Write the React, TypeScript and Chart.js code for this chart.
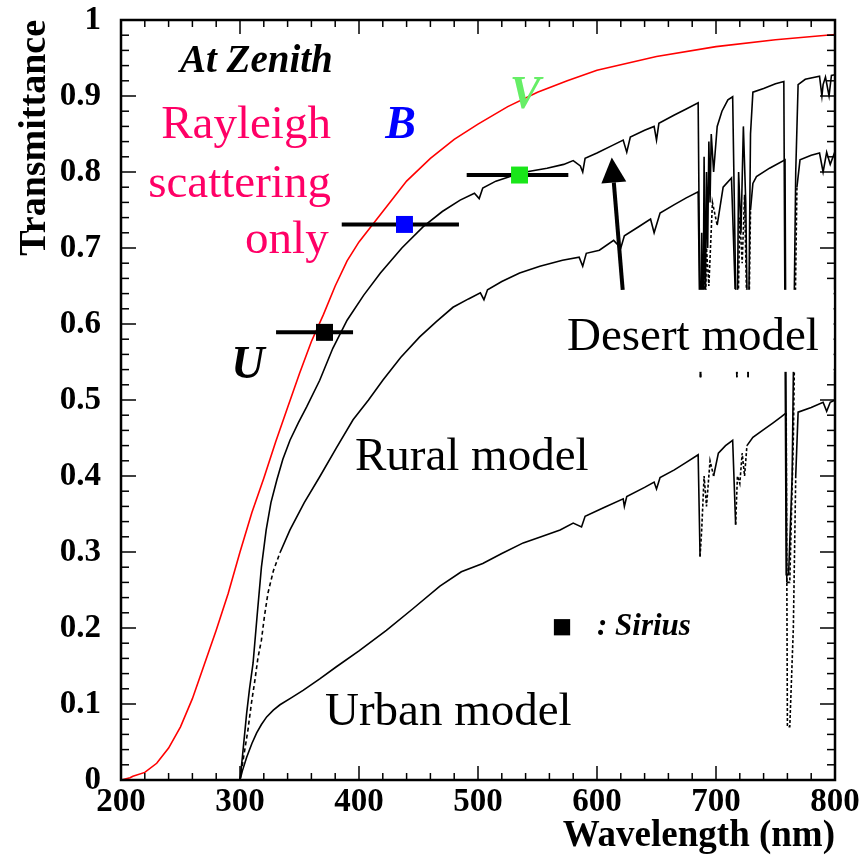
import React, { useEffect, useRef } from "react";
import { Chart, registerables } from "chart.js";
Chart.register(...registerables);

// ---------- data ----------
const rayleighWl = [200, 207.6, 210, 220, 230, 240, 250, 260, 270, 280, 290, 300, 310, 320, 330, 340, 350, 360, 370, 380, 390, 400, 420, 440, 460, 480, 500, 525, 550, 575, 600, 650, 700, 750, 800];
const rayleighT = [0.0, 0.003, 0.005, 0.010, 0.022, 0.042, 0.070, 0.107, 0.152, 0.197, 0.245, 0.300, 0.352, 0.397, 0.445, 0.490, 0.535, 0.577, 0.612, 0.650, 0.683, 0.708, 0.748, 0.788, 0.818, 0.843, 0.863, 0.886, 0.905, 0.920, 0.934, 0.952, 0.965, 0.974, 0.981];

const desertWl = [300, 302, 305.6, 308, 311, 314.6, 318, 322, 326, 331, 336, 342, 349, 356, 367, 378, 390, 404, 418, 436, 454, 470, 485, 497, 501, 504, 515, 527, 540, 558, 572, 580, 586, 588, 590, 600, 613, 622, 625, 628, 640, 648, 650, 652, 665, 675, 685, 687, 688, 689, 690, 691, 692, 693, 694, 695, 696, 698, 701, 705, 710, 714, 716, 717.5, 719, 721, 723, 725, 727, 729, 731, 740, 750, 757, 759, 761, 764, 767, 769, 775, 787, 789, 790, 792, 795, 797, 800];
const desertT = [0.0, 0.03, 0.088, 0.12, 0.154, 0.22, 0.28, 0.329, 0.365, 0.395, 0.422, 0.447, 0.470, 0.491, 0.526, 0.568, 0.605, 0.638, 0.667, 0.700, 0.728, 0.748, 0.763, 0.772, 0.765, 0.779, 0.788, 0.794, 0.800, 0.805, 0.810, 0.815, 0.808, 0.800, 0.818, 0.825, 0.835, 0.842, 0.826, 0.846, 0.855, 0.860, 0.842, 0.864, 0.875, 0.883, 0.891, 0.53, 0.72, 0.55, 0.82, 0.62, 0.80, 0.70, 0.84, 0.76, 0.85, 0.80, 0.86, 0.88, 0.895, 0.899, 0.70, 0.53, 0.80, 0.72, 0.86, 0.76, 0.53, 0.85, 0.905, 0.910, 0.916, 0.919, 0.27, 0.27, 0.40, 0.80, 0.915, 0.922, 0.926, 0.90, 0.915, 0.925, 0.90, 0.927, 0.928];

const ruralWl = [300, 303, 306.7, 309.5, 312.6, 315, 318, 320.5, 323.5, 328, 333.6, 342, 354, 367, 381, 395, 408, 420, 435, 451, 465, 479, 492, 502, 505, 508, 520, 535, 552, 571, 585, 588, 591, 602, 614, 620, 623, 635, 645, 648, 653, 665, 675, 685, 687, 688, 689, 690, 691, 692, 694, 697, 701, 706, 713, 716, 717.5, 720, 722, 724, 727, 729, 731, 734, 745, 758, 759.5, 762, 765, 768, 770.6, 780, 787, 790, 793, 796, 800];
const ruralT = [0.0, 0.03, 0.066, 0.10, 0.132, 0.16, 0.184, 0.215, 0.246, 0.275, 0.299, 0.329, 0.365, 0.399, 0.437, 0.474, 0.500, 0.526, 0.556, 0.583, 0.603, 0.622, 0.633, 0.641, 0.632, 0.645, 0.656, 0.667, 0.676, 0.684, 0.688, 0.676, 0.693, 0.697, 0.710, 0.700, 0.716, 0.728, 0.738, 0.720, 0.746, 0.757, 0.766, 0.774, 0.53, 0.66, 0.55, 0.72, 0.60, 0.70, 0.65, 0.76, 0.73, 0.78, 0.792, 0.65, 0.53, 0.74, 0.68, 0.77, 0.53, 0.75, 0.785, 0.794, 0.805, 0.816, 0.26, 0.26, 0.45, 0.78, 0.816, 0.822, 0.825, 0.80, 0.826, 0.81, 0.827];

const urbanWl = [300, 302, 305.6, 310, 314, 318, 322.4, 328, 333.6, 343, 353, 367, 381, 400, 423, 445, 468, 486, 504, 520, 538, 553, 569, 580, 587, 590, 605, 622, 623, 625, 640, 648, 650, 653, 665, 675, 685, 686.6, 688, 690, 692, 695, 698, 702, 708, 714, 716.5, 718, 720, 722, 724, 726, 731, 740, 748, 755, 759, 760, 762, 765, 767, 769, 780, 790, 793, 796, 800];
const urbanT = [0.0, 0.012, 0.03, 0.048, 0.062, 0.073, 0.083, 0.092, 0.099, 0.108, 0.118, 0.133, 0.149, 0.170, 0.197, 0.225, 0.255, 0.274, 0.285, 0.298, 0.312, 0.320, 0.329, 0.338, 0.333, 0.347, 0.358, 0.370, 0.360, 0.373, 0.385, 0.392, 0.383, 0.398, 0.408, 0.418, 0.428, 0.294, 0.33, 0.40, 0.36, 0.42, 0.40, 0.43, 0.44, 0.447, 0.336, 0.40, 0.39, 0.43, 0.40, 0.44, 0.451, 0.461, 0.470, 0.478, 0.483, 0.07, 0.07, 0.20, 0.40, 0.484, 0.490, 0.497, 0.485, 0.497, 0.500];

// photometric filters measured on Sirius
const filterNames = ["U", "B", "V"];
const filterCenter = [371.0, 438.2, 534.9];
const filterT = [0.589, 0.731, 0.796];
const filterLo = [330.3, 385.5, 490.5];
const filterHi = [395.0, 484.0, 575.9];
const filterColors = ["#000000", "#0000ff", "#19e619"];
const filterLabelColors = ["#000000", "#0000ff", "#66ee66"];
const filterLabelPos = [[306.7, 0.529], [434.9, 0.845], [539.5, 0.884]];

// legend marker for Sirius
const siriusMarker = [570.6, 0.201];

// arrow pointing at desert curve: [tailX, tailY, tipX, tipY]
const desertArrow = [621.6, 0.645, 612.4, 0.819];

// ticks
const xTickLabels = ["200", "300", "400", "500", "600", "700", "800"];
const yTickLabels = ["0", "0.1", "0.2", "0.3", "0.4", "0.5", "0.6", "0.7", "0.8", "0.9", "1"];
const xMinorStep = 20;
const yMinorStep = 0.02;

const SERIF = "'Liberation Serif', 'Times New Roman', serif";

const toXY = (xs: number[], ys: number[]) => xs.map((x, i) => ({ x, y: ys[i] }));

const inBand = (v: number) => (v > 686 && v < 702) || (v > 715 && v < 730) || (v > 758.5 && v < 769);

const overlayPlugin = {
  id: "overlay",
  afterDatasetsDraw(chart: any) {
    const { ctx, chartArea: a, scales } = chart;
    const x = scales.x;
    const y = scales.y;
    ctx.save();
    // ticks
    ctx.strokeStyle = "#000";
    ctx.lineWidth = 1.5;
    const seg = (x0: number, y0: number, x1: number, y1: number) => {
      ctx.beginPath();
      ctx.moveTo(x0, y0);
      ctx.lineTo(x1, y1);
      ctx.stroke();
    };
    for (let k = 0; k <= 30; k++) {
      const v = x.min + k * xMinorStep;
      const px = x.getPixelForValue(v);
      const L = k % 5 === 0 ? 14 : 7;
      seg(px, a.bottom, px, a.bottom - L);
      seg(px, a.top, px, a.top + L);
    }
    for (let k = 0; k <= 50; k++) {
      const v = k * yMinorStep;
      const py = y.getPixelForValue(v);
      const L = k % 5 === 0 ? 15 : 8;
      seg(a.left, py, a.left + L, py);
      seg(a.right, py, a.right - L, py);
    }
    ctx.lineWidth = 2.5;
    ctx.strokeRect(a.left, a.top, a.right - a.left, a.bottom - a.top);

    const text = (s: string, vx: number, vy: number, font: string, color: string, align: CanvasTextAlign) => {
      ctx.font = font;
      ctx.fillStyle = color;
      ctx.textAlign = align;
      ctx.textBaseline = "alphabetic";
      ctx.fillText(s, x.getPixelForValue(vx), y.getPixelForValue(vy));
    };

    // Desert model label with white box
    {
      ctx.font = `47px ${SERIF}`;
      const tx = x.getPixelForValue(574.8);
      const ty = y.getPixelForValue(0.566);
      const w = ctx.measureText("Desert model").width;
      ctx.fillStyle = "#fff";
      ctx.fillRect(tx - 12, ty - 60, Math.max(w + 24, a.right - 1.5 - (tx - 12)), 82);
      text("Desert model", 574.8, 0.566, `47px ${SERIF}`, "#000", "left");
    }

    text("At Zenith", 249.6, 0.9316, `bold italic 39px ${SERIF}`, "#000", "left");
    text("Rayleigh", 376.4, 0.845, `47px ${SERIF}`, "#ff0066", "right");
    text("scattering", 376.4, 0.767, `47px ${SERIF}`, "#ff0066", "right");
    text("only", 374.5, 0.693, `47px ${SERIF}`, "#ff0066", "right");
    text("Rural model", 396.6, 0.408, `47px ${SERIF}`, "#000", "left");
    text("Urban model", 371.4, 0.0724, `47px ${SERIF}`, "#000", "left");
    text(": Sirius", 600, 0.191, `bold italic 31px ${SERIF}`, "#000", "left");
    filterNames.forEach((n, i) => {
      text(n, filterLabelPos[i][0], filterLabelPos[i][1], `bold italic 46px ${SERIF}`, filterLabelColors[i], "center");
    });

    // arrow
    {
      const x0 = x.getPixelForValue(desertArrow[0]);
      const y0 = y.getPixelForValue(desertArrow[1]);
      const x1 = x.getPixelForValue(desertArrow[2]);
      const y1 = y.getPixelForValue(desertArrow[3]);
      const ang = Math.atan2(y1 - y0, x1 - x0);
      const hl = 25, hw = 12.5;
      const bx = x1 - hl * Math.cos(ang);
      const by = y1 - hl * Math.sin(ang);
      ctx.strokeStyle = "#000";
      ctx.lineWidth = 4;
      seg(x0, y0, bx, by);
      ctx.fillStyle = "#000";
      ctx.beginPath();
      ctx.moveTo(x1, y1);
      ctx.lineTo(bx + hw * Math.sin(ang), by - hw * Math.cos(ang));
      ctx.lineTo(bx - hw * Math.sin(ang), by + hw * Math.cos(ang));
      ctx.closePath();
      ctx.fill();
    }

    // axis titles
    ctx.fillStyle = "#000";
    ctx.font = `bold 37px ${SERIF}`;
    ctx.textAlign = "right";
    ctx.textBaseline = "alphabetic";
    ctx.fillText("Wavelength (nm)", a.right, 846);
    ctx.save();
    ctx.translate(45, a.top);
    ctx.rotate(-Math.PI / 2);
    ctx.font = `bold 38px ${SERIF}`;
    ctx.textAlign = "right";
    ctx.fillText("Transmittance", 0, 0);
    ctx.restore();

    ctx.restore();
  },
};

export default function App() {
  const ref = useRef<HTMLCanvasElement | null>(null);
  useEffect(() => {
    if (!ref.current) return;
    const curve = (label: string, xs: number[], ys: number[], color: string, order: number, dashLow: boolean, dashBands: boolean) => ({
      type: "line" as const,
      label,
      data: toXY(xs, ys),
      borderColor: color,
      borderWidth: 1.6,
      pointRadius: 0,
      tension: 0,
      fill: false,
      order,
      segment: {
        borderDash: (c: any) => {
          const x0 = c.p0.parsed.x, x1 = c.p1.parsed.x;
          if (dashLow && x1 <= 334) return [4, 3];
          if (dashBands && inBand(x0) && inBand(x1)) return [3, 2];
          return undefined;
        },
      },
    });
    const datasets: any[] = [
      curve("Rayleigh scattering only", rayleighWl, rayleighT, "#ff0000", 5, false, false),
      curve("Desert model", desertWl, desertT, "#000000", 4, false, false),
      curve("Rural model", ruralWl, ruralT, "#000000", 4, true, true),
      curve("Urban model", urbanWl, urbanT, "#000000", 4, false, true),
    ];
    filterNames.forEach((n, i) => {
      datasets.push({
        type: "line",
        label: n + " band",
        data: [{ x: filterLo[i], y: filterT[i] }, { x: filterHi[i], y: filterT[i] }],
        borderColor: "#000",
        borderWidth: 4,
        pointRadius: 0,
        order: 1,
      });
      datasets.push({
        type: "scatter",
        label: n,
        data: [{ x: filterCenter[i], y: filterT[i] }],
        pointStyle: "rect",
        pointRadius: 12,
        backgroundColor: filterColors[i],
        borderColor: filterColors[i],
        borderWidth: 0,
        order: 0,
      });
    });
    datasets.push({
      type: "scatter",
      label: "Sirius",
      data: [{ x: siriusMarker[0], y: siriusMarker[1] }],
      pointStyle: "rect",
      pointRadius: 11.5,
      backgroundColor: "#000",
      borderWidth: 0,
      order: 0,
    });

    const chart = new Chart(ref.current, {
      type: "line",
      data: { datasets },
      options: {
        responsive: false,
        animation: false,
        devicePixelRatio: 1,
        layout: { padding: { left: 0, top: 20, right: 31, bottom: 0 } },
        plugins: { legend: { display: false }, tooltip: { enabled: false } },
        scales: {
          x: {
            type: "linear",
            min: 200,
            max: 800,
            grid: { display: false, drawTicks: false },
            border: { display: false },
            afterFit: (s: any) => { s.height = 82; s.paddingLeft = 0; s.paddingRight = 0; },
            ticks: {
              stepSize: 100,
              padding: 8,
              maxRotation: 0,
              autoSkip: false,
              color: "#000",
              font: { family: SERIF, size: 33, weight: "bold", lineHeight: 0.9 },
              callback: (_v: any, i: number) => xTickLabels[i],
            },
          },
          y: {
            type: "linear",
            min: 0,
            max: 1,
            grid: { display: false, drawTicks: false },
            border: { display: false },
            afterFit: (s: any) => { s.width = 121; s.paddingTop = 0; s.paddingBottom = 0; },
            ticks: {
              stepSize: 0.1,
              padding: 20,
              autoSkip: false,
              color: "#000",
              font: { family: SERIF, size: 33, weight: "bold" },
              callback: (_v: any, i: number) => yTickLabels[i],
            },
          },
        },
      },
      plugins: [overlayPlugin],
    } as any);
    return () => chart.destroy();
  }, []);
  return (
    <div style={{ position: "absolute", left: 0, top: 0, width: 866, height: 862, background: "#fff" }}>
      <canvas ref={ref} width={866} height={862} style={{ width: 866, height: 862, display: "block" }} />
    </div>
  );
}
